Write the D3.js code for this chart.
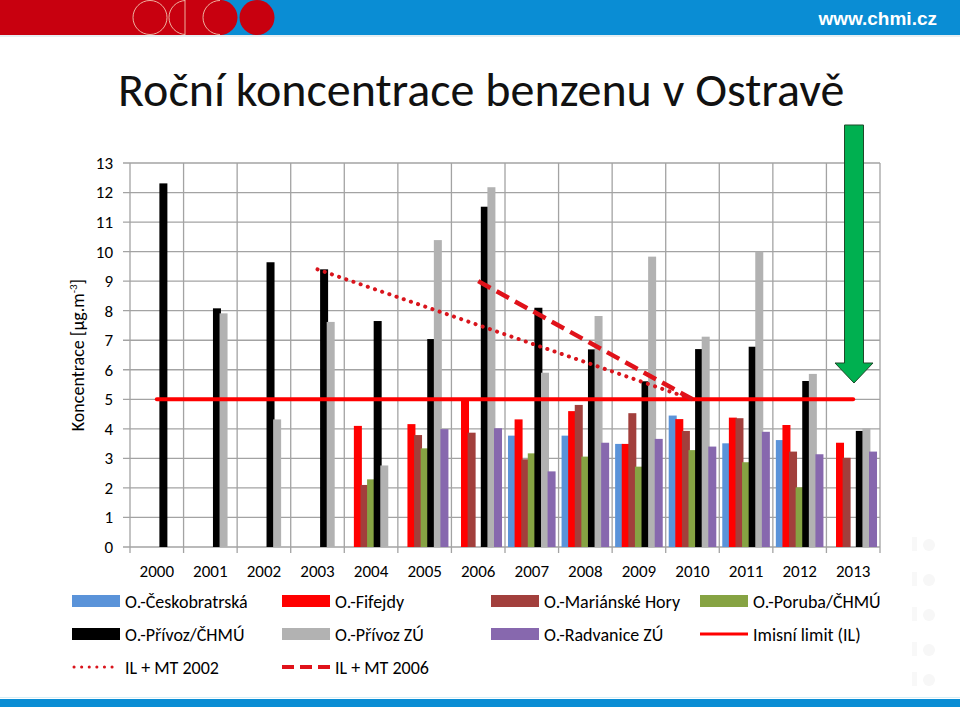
<!DOCTYPE html>
<html>
<head>
<meta charset="utf-8">
<script src="https://cdn.jsdelivr.net/npm/d3@7"></script>
<style>
  body { margin: 0; background: #fff; }
  svg { display: block; }
  text { font-family: Carlito, Calibri, Lato, sans-serif; }
</style>
</head>
<body>
<svg id="chart" width="960" height="707"></svg>
<script>

// data
var years = ['2000','2001','2002','2003','2004','2005','2006','2007','2008','2009','2010','2011','2012','2013'];
var seriesNames = ['O.-Českobratrská','O.-Fifejdy','O.-Mariánské Hory','O.-Poruba/ČHMÚ','O.-Přívoz/ČHMÚ','O.-Přívoz ZÚ','O.-Radvanice ZÚ'];
var seriesColors = ['#5A93D9','#FF0000','#A23F3C','#86A343','#000000','#B2B2B2','#8768AE'];

var ceskobratrska = [null, null, null, null, null, null, null, 3.77, 3.77, 3.49, 4.45, 3.51, 3.62, null];
var fifejdy       = [null, null, null, null, 4.10, 4.16, 4.95, 4.32, 4.60, 3.49, 4.33, 4.38, 4.13, 3.53];
var marianskeHory = [null, null, null, null, 2.10, 3.79, 3.87, 2.97, 4.81, 4.53, 3.93, 4.36, 3.23, 3.02];
var poruba        = [null, null, null, null, 2.29, 3.34, null, 3.17, 3.06, 2.72, 3.28, 2.87, 2.02, null];
var privozChmu    = [12.31, 8.08, 9.64, 9.40, 7.65, 7.04, 11.52, 8.10, 6.69, 5.61, 6.70, 6.78, 5.62, 3.93];
var privozZu      = [null, 7.91, 4.32, 7.62, 2.76, 10.39, 12.18, 5.90, 7.82, 9.83, 7.12, 10.00, 5.86, 4.02];
var radvanice     = [null, null, null, null, null, 3.99, 4.02, 2.56, 3.53, 3.66, 3.40, 3.90, 3.14, 3.23];

var limitYears = ['2000','2013'];
var limitValues = [5, 5];
var mt2002Years = ['2003','2010'];
var mt2002Values = [9.4, 5.0];
var mt2006Years = ['2006','2010'];
var mt2006Values = [9.0, 5.0];

var yTicks = [0,1,2,3,4,5,6,7,8,9,10,11,12,13];

var allSeries = [ceskobratrska, fifejdy, marianskeHory, poruba, privozChmu, privozZu, radvanice];

var plot = { left: 130, right: 880, top: 163, bottom: 547 };
var gridColor = '#A3A3A3';
var labelFont = 'Carlito, Calibri, Lato, sans-serif';

var svg = d3.select('#chart');

// header band
svg.append('rect').attr('x', 0).attr('y', 0).attr('width', 960).attr('height', 35).attr('fill', '#0A8DD4');
svg.append('rect').attr('x', 0).attr('y', 0).attr('width', 222).attr('height', 35).attr('fill', '#C8000F');
svg.append('circle').attr('cx', 220).attr('cy', 17.5).attr('r', 17.5).attr('fill', '#C8000F');
svg.append('circle').attr('cx', 257).attr('cy', 17.5).attr('r', 17.5).attr('fill', '#C8000F');
var defs = svg.append('defs');
defs.append('clipPath').attr('id', 'halfclip1').append('rect').attr('x', 160).attr('y', 0).attr('width', 25).attr('height', 35);
defs.append('clipPath').attr('id', 'halfclip2').append('rect').attr('x', 200).attr('y', 0).attr('width', 20).attr('height', 35);
[150, 186, 220].forEach(function(cx, i) {
  svg.append('circle').attr('cx', cx).attr('cy', 17.5).attr('r', 17)
    .attr('fill', 'none').attr('stroke', '#F2C3AE').attr('stroke-width', 0.9)
    .attr('clip-path', i == 0 ? null : 'url(#halfclip' + i + ')');
});
svg.append('line').attr('x1', 185).attr('x2', 185).attr('y1', 0).attr('y2', 35).attr('stroke', '#F2C3AE').attr('stroke-width', 0.9);
svg.append('line').attr('x1', 0).attr('x2', 960).attr('y1', 36).attr('y2', 36).attr('stroke', '#E6EEF2').attr('stroke-width', 2);
svg.append('text')
  .attr('x', 937).attr('y', 25)
  .attr('text-anchor', 'end')
  .style('font-family', '"Liberation Sans Narrow", "Liberation Sans", sans-serif')
  .style('font-size', '19px')
  .style('font-weight', 'bold')
  .attr('fill', '#fff')
  .text('www.chmi.cz');

// bottom strip
svg.append('rect').attr('x', 0).attr('y', 699).attr('width', 960).attr('height', 8).attr('fill', '#0A8DD4');
svg.append('line').attr('x1', 0).attr('x2', 960).attr('y1', 697.5).attr('y2', 697.5).attr('stroke', '#D6EEF6').attr('stroke-width', 1);

// faint watermark on the right
[545, 580, 615, 650, 680].forEach(function(cy) {
  svg.append('circle').attr('cx', 929).attr('cy', cy).attr('r', 6).attr('fill', '#F7F7F7');
  svg.append('rect').attr('x', 912).attr('y', cy - 8).attr('width', 5).attr('height', 14).attr('fill', '#F8F8F8');
});

// title
svg.append('text')
  .attr('x', 118).attr('y', 106)
  .style('font-size', '48px')
  .attr('fill', '#111')
  .text('Roční koncentrace benzenu v Ostravě');

// scales
var x0 = d3.scaleBand().domain(years).range([plot.left, plot.right]).padding(0);
var y = d3.scaleLinear().domain([0, 13]).range([plot.bottom, plot.top]);
var step = 6.6, barW = 8;
var x1 = d3.scaleBand().domain(d3.range(allSeries.length))
  .range([x0.bandwidth() / 2 - 3.5 * step, x0.bandwidth() / 2 + 3.5 * step]);
function xc(yr) { return x0(yr) + x0.bandwidth() / 2; }

// grid
var grid = svg.append('g');
grid.selectAll('.hg').data(yTicks).enter().append('line')
  .attr('x1', plot.left - 7).attr('x2', plot.right)
  .attr('y1', function(d) { return y(d); }).attr('y2', function(d) { return y(d); })
  .attr('stroke', gridColor).attr('stroke-width', 1.3);
var edges = years.map(function(d) { return x0(d); }).concat([plot.right]);
grid.selectAll('.vg').data(edges).enter().append('line')
  .attr('x1', function(d) { return d; }).attr('x2', function(d) { return d; })
  .attr('y1', plot.top).attr('y2', plot.bottom + 6)
  .attr('stroke', gridColor).attr('stroke-width', 1.3);

// axes labels
var yAxis = svg.append('g')
  .attr('transform', 'translate(' + (plot.left - 7) + ',0)')
  .call(d3.axisLeft(y).tickValues(yTicks).tickSize(0).tickPadding(10));
yAxis.select('.domain').remove();
yAxis.selectAll('text').style('font-size', '17px').style('font-family', labelFont).attr('fill', '#000');

var xAxis = svg.append('g')
  .attr('transform', 'translate(0,' + plot.bottom + ')')
  .call(d3.axisBottom(x0).tickSize(0).tickPadding(18));
xAxis.select('.domain').remove();
xAxis.selectAll('text').style('font-size', '17px').style('font-family', labelFont).attr('fill', '#000');

var yLab = svg.append('text')
  .attr('transform', 'translate(84,' + ((plot.top + plot.bottom) / 2) + ') rotate(-90)')
  .attr('text-anchor', 'middle')
  .style('font-size', '18px');
yLab.append('tspan').text('Koncentrace [µg.m');
yLab.append('tspan').attr('dy', -7).style('font-size', '11px').text('-3');
yLab.append('tspan').attr('dy', 7).text(']');

// bars
allSeries.forEach(function(vals, si) {
  var rows = years.map(function(yr, i) { return { year: yr, v: vals[i] }; }).filter(function(d) { return d.v != null; });
  svg.append('g').selectAll('rect').data(rows).enter().append('rect')
    .attr('x', function(d) { return x0(d.year) + x1(si) + x1.bandwidth() / 2 - barW / 2; })
    .attr('y', function(d) { return y(d.v); })
    .attr('width', barW)
    .attr('height', function(d) { return y(0) - y(d.v); })
    .attr('fill', seriesColors[si]);
});

// limit lines
var line = d3.line().x(function(d) { return xc(d[0]); }).y(function(d) { return y(d[1]); });
svg.append('path').datum(d3.zip(limitYears, limitValues)).attr('d', line)
  .attr('stroke', '#FF0000').attr('stroke-width', 4).attr('fill', 'none').attr('stroke-linecap', 'round');
svg.append('path').datum(d3.zip(mt2002Years, mt2002Values)).attr('d', line)
  .attr('stroke', '#D9141C').attr('stroke-width', 4).attr('fill', 'none')
  .attr('stroke-linecap', 'round').attr('stroke-dasharray', '0.1 7.5');
svg.append('path').datum(d3.zip(mt2006Years, mt2006Values)).attr('d', line)
  .attr('stroke', '#E0121A').attr('stroke-width', 4.5).attr('fill', 'none')
  .attr('stroke-dasharray', '14 7');

// green arrow
svg.append('path')
  .attr('d', 'M844.5,125 L863.5,125 L863.5,363 L873,363 L854,383 L835,363 L844.5,363 Z')
  .attr('fill', '#00B050').attr('stroke', '#1F4A2A').attr('stroke-width', 1);

// legend
var legendItems = [
  { name: seriesNames[0], kind: 'box', color: seriesColors[0], x: 72, y: 601 },
  { name: seriesNames[1], kind: 'box', color: seriesColors[1], x: 282, y: 601 },
  { name: seriesNames[2], kind: 'box', color: seriesColors[2], x: 491, y: 601 },
  { name: seriesNames[3], kind: 'box', color: seriesColors[3], x: 700, y: 601 },
  { name: seriesNames[4], kind: 'box', color: seriesColors[4], x: 72, y: 634 },
  { name: seriesNames[5], kind: 'box', color: seriesColors[5], x: 282, y: 634 },
  { name: seriesNames[6], kind: 'box', color: seriesColors[6], x: 491, y: 634 },
  { name: 'Imisní limit (IL)', kind: 'solid', color: '#FF0000', x: 700, y: 634 },
  { name: 'IL + MT 2002', kind: 'dot', color: '#D9141C', x: 72, y: 667 },
  { name: 'IL + MT 2006', kind: 'dash', color: '#E0121A', x: 282, y: 667 }
];
var leg = svg.append('g').selectAll('g').data(legendItems).enter().append('g')
  .attr('transform', function(d) { return 'translate(' + d.x + ',' + d.y + ')'; });
leg.each(function(d) {
  var g = d3.select(this);
  if (d.kind == 'box') {
    g.append('rect').attr('x', 0).attr('y', -6).attr('width', 48).attr('height', 12).attr('fill', d.color);
  } else if (d.kind == 'solid') {
    g.append('line').attr('x1', 0).attr('x2', 48).attr('y1', 0).attr('y2', 0).attr('stroke', d.color).attr('stroke-width', 3);
  } else if (d.kind == 'dot') {
    g.append('line').attr('x1', 2).attr('x2', 47).attr('y1', 0).attr('y2', 0).attr('stroke', d.color)
      .attr('stroke-width', 3).attr('stroke-linecap', 'round').attr('stroke-dasharray', '0.1 7.5');
  } else {
    g.append('line').attr('x1', 0).attr('x2', 48).attr('y1', 0).attr('y2', 0).attr('stroke', d.color)
      .attr('stroke-width', 4).attr('stroke-dasharray', '12 6');
  }
  g.append('text').attr('x', 53).attr('y', 6.5).style('font-size', '18px').attr('fill', '#000').text(d.name);
});

</script>
</body>
</html>
